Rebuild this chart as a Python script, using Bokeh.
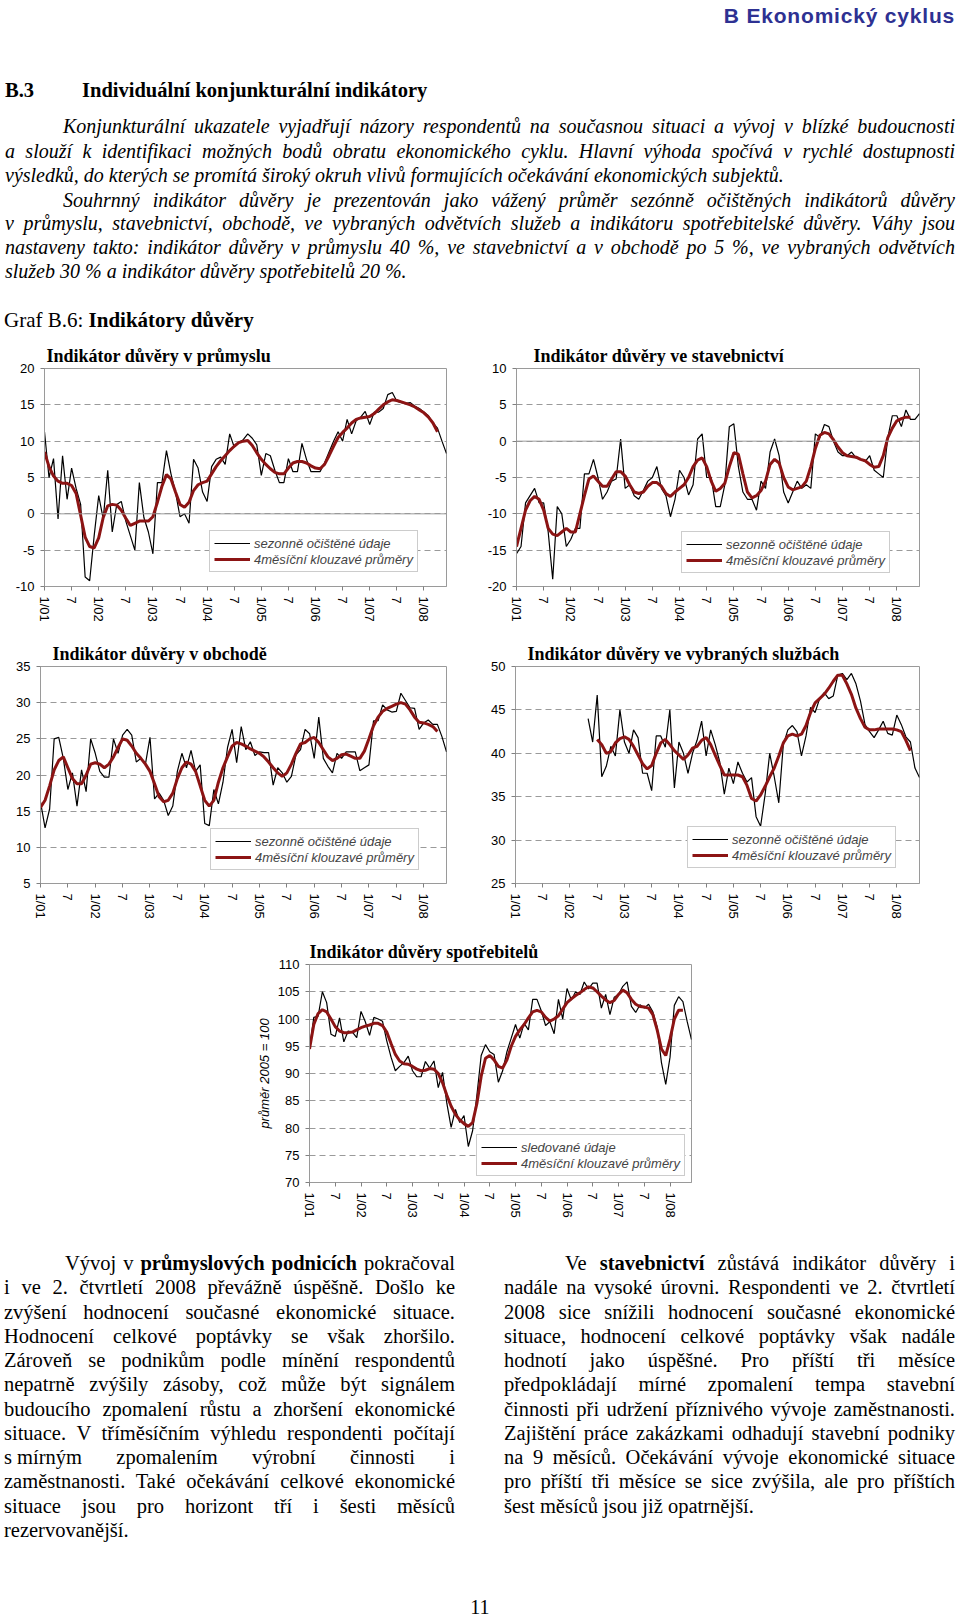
from bokeh.plotting import figure
from bokeh.models import (Div, Range1d, FixedTicker, Legend, LegendItem, Span, Spacer)
from bokeh.layouts import column, row
from bokeh.embed import file_html
from bokeh.resources import INLINE

# ---------------- data ----------------
tick_pos = [0, 6, 12, 18, 24, 30, 36, 42, 48, 54, 60, 66, 72, 78, 84]
tick_labels = ["1/01", "7", "1/02", "7", "1/03", "7", "1/04", "7", "1/05", "7", "1/06", "7", "1/07", "7", "1/08"]

ind_start = 0
ind_sa = [11.3, 5.0, 7.6, -0.7, 8.0, 2.0, 6.3, 3.5, 1.3, -8.7,
          -9.2, -3.0, 2.5, -0.7, 6.0, -2.5, 1.3, 1.7, -1.0, -3.0,
          -5.0, 4.3, -0.5, -2.5, -5.5, 4.3, 4.3, 8.7, 5.5, 3.0,
          -0.4, 0.0, -1.3, 7.5, 6.3, 3.0, 1.7, 6.5, 7.5, 7.8,
          6.8, 11.0, 9.2, 9.8, 10.2, 11.0, 10.4, 9.5, 5.3, 8.3,
          8.0, 6.0, 4.3, 4.3, 7.6, 5.8, 5.8, 9.7, 7.5, 5.8,
          5.8, 5.8, 7.0, 8.5, 10.0, 11.3, 10.0, 13.0, 11.0, 12.8,
          13.3, 14.1, 12.3, 14.0, 14.0, 14.5, 16.4, 16.7, 15.5, 15.3,
          15.2, 15.3, 14.8, 14.5, 14.0, 13.5, 12.5, 11.8, 10.0, 8.3]
ind_ma_start = 0
ind_ma = [8.5, 6.5, 5.2, 4.5, 4.2, 4.2, 3.9, 2.8, -0.2, -3.2,
          -4.5, -4.7, -3.3, -0.5, 1.1, 1.3, 1.2, 0.5, -0.6, -1.6,
          -1.3, -1.0, -1.0, -1.0, -0.4, 1.6, 3.8, 5.4, 4.8, 3.0,
          1.3, 0.9, 1.6, 3.2, 4.0, 4.3, 4.5, 5.5, 6.5, 7.3,
          8.0, 8.7, 9.3, 9.8, 10.0, 10.1, 9.4, 8.4, 7.5, 6.8,
          6.2, 5.7, 5.5, 5.5, 6.3, 7.0, 7.2, 7.2, 7.0, 6.6,
          6.3, 6.2, 6.8, 8.0, 9.3, 10.5, 11.2, 11.8, 12.5, 13.0,
          13.2, 13.3, 13.4, 13.8, 14.4, 15.0, 15.4, 15.7, 15.6, 15.4,
          15.2, 15.0, 14.7, 14.3, 13.9, 13.3, 12.5, 11.3]

con_start = 0
con_sa = [-15.5, -14.5, -8.5, -7.5, -6.5, -8.5, -8.5, -12.5, -19.0, -9.0,
          -10.0, -14.5, -13.5, -12.0, -12.0, -4.5, -4.5, -2.5, -5.0, -8.0,
          -7.0, -5.5, -5.2, 0.3, -6.5, -6.0, -7.5, -8.0, -6.8, -5.5,
          -5.0, -3.5, -6.5, -7.5, -10.4, -8.0, -4.0, -5.0, -7.4, -6.0,
          0.3, 1.0, -5.0, -5.0, -9.0, -9.0, -6.0, 2.0, 2.4, -3.5,
          -7.0, -8.0, -8.0, -9.5, -5.5, -6.5, -1.5, 0.3, -2.0, -7.0,
          -8.5, -7.0, -5.5, -6.5, -6.0, -6.5, 1.0, 0.5, 2.3, 2.0,
          0.0, -1.5, -2.0, -2.0, -1.5, -2.3, -2.5, -2.8, -2.0, -4.0,
          -4.5, -5.0, 0.5, 3.5, 3.5, 2.0, 4.3, 3.0, 3.0, 3.8]
con_ma_start = 0
con_ma = [-14.5, -12.0, -9.5, -8.2, -7.6, -8.0, -9.5, -12.0, -12.8, -13.0,
          -12.5, -12.0, -12.5, -12.5, -10.0, -7.5, -5.2, -4.8, -5.5, -6.2,
          -6.2, -5.2, -4.2, -4.2, -4.8, -6.0, -7.0, -7.2, -7.0, -6.2,
          -5.7, -5.7, -6.2, -7.2, -7.6, -7.0, -6.5, -6.0, -5.0, -3.5,
          -2.6, -2.3, -3.5, -5.5, -6.9, -6.5, -5.8, -3.5, -1.6, -1.8,
          -4.5, -7.0, -7.8, -7.5, -6.8, -5.5, -3.2, -2.5, -3.0, -5.0,
          -6.3, -6.7, -6.5, -6.3, -5.5, -3.5, -1.0, 0.8, 1.2, 1.0,
          0.2, -0.8, -1.6, -2.0, -2.1, -2.2, -2.5, -2.7, -3.2, -3.6,
          -3.5, -2.0, 0.5, 1.8, 2.8, 3.1, 3.3, 3.3]

trade_start = 0
trade_sa = [16.3, 12.7, 15.3, 25.0, 25.2, 22.3, 18.0, 20.3, 15.7, 20.7,
            17.7, 25.0, 23.0, 20.5, 19.7, 19.7, 25.0, 23.0, 25.5, 26.3,
            25.5, 21.8, 22.3, 21.5, 25.2, 16.7, 17.5, 16.5, 14.4, 15.7,
            20.5, 23.0, 21.0, 23.4, 20.5, 21.4, 13.3, 13.0, 18.0, 16.0,
            19.0, 23.8, 26.3, 21.7, 26.7, 23.5, 24.6, 22.7, 23.2, 23.1,
            23.1, 18.6, 21.0, 20.3, 19.0, 19.8, 22.8, 23.5, 26.3, 25.7,
            22.3, 28.0, 22.3, 21.2, 20.3, 23.0, 22.3, 23.2, 23.2, 23.2,
            20.6, 21.0, 21.4, 27.5, 27.5, 29.7, 29.0, 28.7, 28.8, 31.3,
            30.3, 29.3, 29.2, 26.3, 27.2, 27.6, 27.0, 27.0, 25.3, 23.2]
trade_ma_start = 0
trade_ma = [15.5, 16.5, 18.5, 20.7, 22.0, 22.5, 21.0, 19.5, 18.8, 18.8,
            20.0, 21.5, 21.7, 21.5, 21.0, 21.5, 22.5, 23.8, 25.0, 24.8,
            24.0, 23.0, 22.3, 21.5, 20.5, 18.8, 17.0, 16.3, 16.5, 17.5,
            19.5, 21.0, 21.8, 21.5, 20.5, 18.5, 16.5, 15.7, 16.5, 19.0,
            21.0, 22.5, 24.0, 24.5, 24.3, 24.0, 23.6, 23.3, 23.0, 22.5,
            21.8, 21.0, 20.3, 19.8, 20.3, 21.5, 23.0, 24.3, 24.5, 25.0,
            25.2, 24.5, 23.5, 22.5, 22.0, 22.3, 22.8, 22.9, 22.6, 22.3,
            22.3, 23.3, 25.0, 26.8, 28.0, 28.8, 29.2, 29.5, 29.8, 30.0,
            29.8, 29.0, 28.0, 27.3, 27.2, 27.0, 26.7, 26.0]

serv_start = 16
serv_sa = [44.0, 41.3, 46.7, 37.3, 38.5, 40.8, 39.7, 45.0, 41.3, 40.0,
           42.7, 41.8, 37.7, 37.7, 35.7, 42.0, 42.0, 40.7, 45.0, 36.0,
           41.3, 40.0, 37.7, 40.0, 41.5, 43.7, 39.7, 42.7, 41.0, 39.0,
           35.3, 38.3, 36.5, 39.0, 37.7, 36.7, 37.2, 32.7, 31.6, 35.3,
           40.0, 37.3, 34.3, 41.0, 42.7, 43.2, 42.5, 39.7, 42.0, 45.3,
           44.7, 46.3, 47.0, 46.3, 46.6, 49.0, 49.2, 48.5, 49.2, 48.0,
           46.0, 43.3, 42.5, 41.8, 42.7, 43.7, 42.3, 42.1, 44.4, 43.3,
           41.9, 41.3, 38.3, 37.2]
serv_ma_start = 18
serv_ma = [41.6, 41.0, 40.0, 40.2, 41.2, 41.7, 41.9, 41.6, 40.8, 39.8,
           38.8, 38.2, 38.6, 40.0, 41.2, 41.6, 41.0, 40.3, 39.8, 39.3,
           39.8, 40.6, 40.8, 41.5, 41.8, 41.0, 39.8, 38.6, 37.5, 37.5,
           37.5, 37.5, 37.3, 36.3, 34.8, 34.5, 35.2, 36.2, 37.3, 38.3,
           39.7, 41.2, 42.0, 42.2, 42.0, 42.2, 43.2, 44.7, 45.8, 46.3,
           46.8, 47.5, 48.3, 49.0, 49.0, 48.0, 46.8, 45.2, 44.0, 43.0,
           42.7, 42.7, 42.8, 42.8, 42.8, 42.8, 42.7, 42.5, 41.5, 40.3]

cons_start = 0
cons_sa = [94.5, 100.3, 100.5, 105.0, 103.0, 97.2, 96.8, 100.2, 95.8, 97.8,
           97.6, 96.6, 101.4, 99.5, 97.0, 100.3, 100.0, 99.6, 96.0, 93.0,
           90.5, 91.3, 92.0, 93.2, 90.5, 89.4, 89.4, 92.2, 91.0, 92.3,
           87.4, 90.2, 84.5, 80.1, 83.4, 81.0, 82.3, 76.6, 79.5, 86.0,
           93.3, 95.3, 94.0, 93.5, 88.4, 90.5, 94.0, 96.5, 99.0, 96.5,
           99.2, 98.0, 103.6, 103.6, 101.5, 98.8, 99.5, 97.3, 103.6, 100.0,
           105.6, 103.5, 105.0, 104.5, 106.8, 105.5, 106.6, 106.6, 102.0, 104.5,
           100.8, 104.0, 104.5, 106.0, 106.8, 102.3, 101.2, 102.6, 102.0, 102.7,
           101.3, 98.5, 92.0, 88.0, 93.0, 102.5, 104.1, 103.2, 99.5, 96.2]
cons_ma_start = 0
cons_ma = [94.5, 99.0, 101.0, 101.7, 101.3, 100.0, 98.6, 97.8, 97.5, 97.5,
           97.6, 98.0, 98.4, 98.7, 98.9, 99.2, 99.2, 98.8, 97.6, 95.5,
           93.5, 92.3, 91.8, 91.7, 91.3, 90.8, 90.5, 90.6, 90.9, 90.8,
           90.0, 88.3, 86.0, 84.0, 82.5, 81.5, 80.8, 80.3, 81.0, 84.5,
           89.5, 92.8, 93.3, 92.5, 91.3, 91.0, 92.5, 95.0, 96.8, 98.0,
           99.0, 100.2, 101.3, 101.6, 101.3, 100.3, 99.6, 100.0, 100.6, 101.8,
           103.0, 103.7, 104.3, 104.8, 105.4, 105.9, 105.7, 105.0, 104.2, 103.5,
           103.0, 103.4, 104.5, 105.3, 104.8, 103.6, 102.7, 102.3, 102.2, 102.0,
           100.8, 98.0, 94.5, 93.3, 96.3, 100.0, 101.6, 101.6]

legend_sa = "sezonně očištěné údaje"
legend_obs = "sledované údaje"
legend_ma = "4měsíční klouzavé průměry"

GREY = "#9a9a9a"
RED = "#8c1414"


def make_chart(title, sa, sa_start, ma, ma_start, y_lo, y_hi, leg1,
               width, height, bl, br, bt, bb, tdx, lx, ly,
               zero=False, ylabel=None):
    p = figure(width=width, height=height, x_range=Range1d(0, 89),
               y_range=Range1d(y_lo, y_hi), output_backend="svg",
               toolbar_location=None, min_border_left=bl, min_border_right=br,
               min_border_top=bt, min_border_bottom=bb)
    p.background_fill_color = "white"
    p.border_fill_color = "white"
    p.outline_line_color = GREY
    p.title.text = title
    p.title.align = "left"
    p.title.offset = tdx
    p.title.standoff = 6
    p.title.text_font = "Liberation Serif"
    p.title.text_font_style = "bold"
    p.title.text_font_size = "18px"
    p.title.text_color = "black"
    p.xgrid.visible = False
    yt = list(range(y_lo, y_hi + 1, 5))
    p.ygrid.grid_line_color = GREY
    p.ygrid.grid_line_dash = "6 4"
    p.ygrid.ticker = FixedTicker(ticks=yt)
    p.yaxis.ticker = FixedTicker(ticks=yt)
    p.yaxis.major_label_overrides = {t: str(t) for t in yt}
    p.xaxis.ticker = FixedTicker(ticks=tick_pos)
    p.xaxis.major_label_overrides = {t: l for t, l in zip(tick_pos, tick_labels)}
    p.xaxis.major_label_orientation = "vertical"
    for ax in (p.xaxis, p.yaxis):
        ax.axis_line_color = GREY
        ax.major_tick_line_color = "#808080"
        ax.major_tick_out = 4
        ax.major_tick_in = 0
        ax.minor_tick_line_color = None
        ax.major_label_text_font = "Liberation Sans"
        ax.major_label_text_font_size = "13px"
        ax.major_label_text_color = "black"
        ax.major_label_standoff = 6
    if ylabel:
        p.yaxis.axis_label = ylabel
        p.yaxis.axis_label_text_font = "Liberation Sans"
        p.yaxis.axis_label_text_font_style = "italic"
        p.yaxis.axis_label_text_font_size = "13px"
        p.yaxis.axis_label_text_color = "black"
        p.yaxis.axis_label_standoff = 3
    if zero:
        p.add_layout(Span(location=0, dimension="width", line_color=GREY, line_width=1))
    xs = list(range(sa_start, sa_start + len(sa)))
    xm = list(range(ma_start, ma_start + len(ma)))
    r1 = p.line(xs, sa, line_color="black", line_width=1.2)
    r2 = p.line(xm, ma, line_color=RED, line_width=3)
    leg = Legend(items=[LegendItem(label=leg1, renderers=[r1]),
                        LegendItem(label=legend_ma, renderers=[r2])],
                 location=(lx, ly))
    leg.border_line_color = GREY
    leg.background_fill_color = "white"
    leg.background_fill_alpha = 1
    leg.label_text_font = "Liberation Sans"
    leg.label_text_font_style = "italic"
    leg.label_text_font_size = "13px"
    leg.glyph_width = 36
    leg.glyph_height = 16
    leg.label_height = 16
    leg.spacing = 0
    leg.padding = 4
    leg.margin = 0
    leg.label_standoff = 4
    p.add_layout(leg)
    return p


p1 = make_chart("Indikátor důvěry v průmyslu", ind_sa, ind_start, ind_ma, ind_ma_start,
                -10, 20, legend_sa, 480, 295, 44, 34, 31, 44, 2, 165, 14, zero=True)
p2 = make_chart("Indikátor důvěry ve stavebnictví", con_sa, con_start, con_ma, con_ma_start,
                -20, 10, legend_sa, 480, 295, 36, 41, 33, 44, 17, 165, 13, zero=True)
p3 = make_chart("Indikátor důvěry v obchodě", trade_sa, trade_start, trade_ma, trade_ma_start,
                5, 35, legend_sa, 480, 295, 40, 34, 36, 42, 12, 170, 13)
p4 = make_chart("Indikátor důvěry ve vybraných službách", serv_sa, serv_start, serv_ma, serv_ma_start,
                25, 50, legend_sa, 480, 295, 35, 41, 36, 41, 12, 172, 15)
p5 = make_chart("Indikátor důvěry spotřebitelů", cons_sa, cons_start, cons_ma, cons_ma_start,
                70, 110, legend_obs, 480, 310, 69, 29, 39, 53, 0, 167, 6,
                ylabel="průměr 2005 = 100")


def line(text, left, top, width, justify=True, extra=""):
    al = "justify" if justify else "left"
    return (f'<div style="position:absolute;left:{left}px;top:{top}px;width:{width}px;'
            f'white-space:nowrap;text-align:{al};text-align-last:{al};line-height:24px;{extra}">'
            f'{text}</div>')


para1 = ["Konjunkturální ukazatele vyjadřují názory respondentů na současnou situaci a vývoj v blízké budoucnosti",
         "a slouží k identifikaci možných bodů obratu ekonomického cyklu. Hlavní výhoda spočívá v rychlé dostupnosti",
         "výsledků, do kterých se promítá široký okruh vlivů formujících očekávání ekonomických subjektů."]
para2 = ["Souhrnný indikátor důvěry je prezentován jako vážený průměr sezónně očištěných indikátorů důvěry",
         "v průmyslu, stavebnictví, obchodě, ve vybraných odvětvích služeb a indikátoru spotřebitelské důvěry. Váhy jsou",
         "nastaveny takto: indikátor důvěry v průmyslu 40 %, ve stavebnictví a v obchodě po 5 %, ve vybraných odvětvích",
         "služeb 30 % a indikátor důvěry spotřebitelů 20 %."]

h = ['<div style="position:relative;width:960px;height:335px;font-family:\'Liberation Serif\',serif;color:#000;">']
h.append('<div style="position:absolute;right:5px;top:4px;line-height:24px;font-family:\'Liberation Sans\',sans-serif;'
         'font-weight:bold;font-size:21px;letter-spacing:0.8px;color:#2e3192;">B Ekonomický cyklus</div>')
h.append('<div style="position:absolute;left:5px;top:78px;line-height:24px;font-weight:bold;font-size:20.5px;">B.3</div>')
h.append('<div style="position:absolute;left:82px;top:78px;line-height:24px;font-weight:bold;font-size:20.5px;">'
         'Individuální konjunkturální indikátory</div>')
ital = "font-style:italic;font-size:20px;"
tops1 = [114, 138.5, 163]
for i, t in enumerate(para1):
    left = 63 if i == 0 else 5
    h.append(line(t, left, tops1[i], 955 - left, justify=(i < len(para1) - 1), extra=ital))
tops2 = [187.5, 211, 235, 259]
for i, t in enumerate(para2):
    left = 63 if i == 0 else 5
    h.append(line(t, left, tops2[i], 955 - left, justify=(i < len(para2) - 1), extra=ital))
h.append('<div style="position:absolute;left:4px;top:307px;line-height:26px;font-size:21px;">'
         'Graf B.6: <b>Indikátory důvěry</b></div>')
h.append('</div>')
header = Div(text="".join(h), width=960, height=335, margin=0)

left_col = ["Vývoj v <b>průmyslových podnicích</b> pokračoval",
            "i ve 2. čtvrtletí 2008 převážně úspěšně. Došlo ke",
            "zvýšení hodnocení současné ekonomické situace.",
            "Hodnocení celkové poptávky se však zhoršilo.",
            "Zároveň se podnikům podle mínění respondentů",
            "nepatrně zvýšily zásoby, což může být signálem",
            "budoucího zpomalení růstu a zhoršení ekonomické",
            "situace. V tříměsíčním výhledu respondenti počítají",
            '<span style="display:inline-block">s mírným</span> zpomalením výrobní činnosti i',
            "zaměstnanosti. Také očekávání celkové ekonomické",
            "situace jsou pro horizont tří i šesti měsíců",
            "rezervovanější."]
right_col = ["Ve <b>stavebnictví</b> zůstává indikátor důvěry i",
             "nadále na vysoké úrovni. Respondenti ve 2. čtvrtletí",
             "2008 sice snížili hodnocení současné ekonomické",
             "situace, hodnocení celkové poptávky však nadále",
             "hodnotí jako úspěšné. Pro příští tři měsíce",
             "předpokládají mírné zpomalení tempa stavební",
             "činnosti při udržení příznivého vývoje zaměstnanosti.",
             "Zajištění práce zakázkami odhadují stavební podniky",
             "na 9 měsíců. Očekávání vývoje ekonomické situace",
             "pro příští tři měsíce se sice zvýšila, ale pro příštích",
             "šest měsíců jsou již opatrnější."]

f = ['<div style="position:relative;width:960px;height:382px;font-family:\'Liberation Serif\',serif;color:#000;">']
body = "font-size:20.5px;"
for i, t in enumerate(left_col):
    left = 65 if i == 0 else 4
    f.append(line(t, left, round(16 + 24.25 * i, 1), 455 - left,
                  justify=(i < len(left_col) - 1), extra=body))
for i, t in enumerate(right_col):
    left = 565 if i == 0 else 504
    f.append(line(t, left, round(16 + 24.25 * i, 1), 955 - left,
                  justify=(i < len(right_col) - 1), extra=body))
f.append('<div style="position:absolute;left:0px;width:960px;top:360px;line-height:24px;'
         'text-align:center;font-size:20px;">11</div>')
f.append('</div>')
footer = Div(text="".join(f), width=960, height=382, margin=0)

page = column(header,
              row(p1, p2),
              row(p3, p4),
              row(Spacer(width=240, height=310), p5, Spacer(width=240, height=310)),
              footer)

open("out.html", "w").write(file_html(page, INLINE))
